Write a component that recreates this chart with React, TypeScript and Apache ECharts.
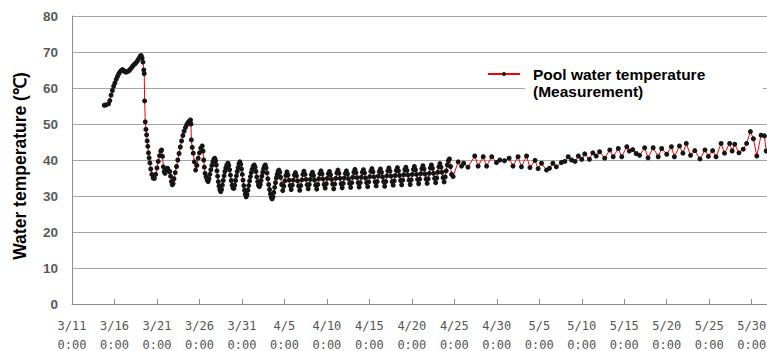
import React, { useEffect, useRef } from "react";
import * as echarts from "echarts";

// X axis: days since 3/11 0:00
const tickDates = ["3/11", "3/16", "3/21", "3/26", "3/31", "4/5", "4/10", "4/15", "4/20", "4/25", "4/30", "5/5", "5/10", "5/15", "5/20", "5/25", "5/30"];
const tickTime = "0:00";
const yTicks = [0, 10, 20, 30, 40, 50, 60, 70, 80];

// Early irregular period (days since 3/11 0:00, °C)
const earlyDays = [
  3.8, 4.0, 4.3, 4.45, 4.6, 4.75, 4.9, 5.05, 5.2, 5.35, 5.5, 5.65, 5.8, 5.95, 6.1, 6.25, 6.4, 6.55, 6.7, 6.85,
  7.0, 7.15, 7.3, 7.45, 7.6, 7.75, 7.9, 8.05, 8.15, 8.25, 8.35, 8.45, 8.5, 8.55, 8.62, 8.7, 8.78, 8.85, 8.92, 9.0,
  9.08, 9.17, 9.27, 9.4, 9.55, 9.7, 9.85, 10.0, 10.15, 10.3, 10.45, 10.55, 10.65, 10.75, 10.85, 10.95, 11.1, 11.25, 11.4, 11.5,
  11.6, 11.7, 11.8, 11.9, 12.0, 12.15, 12.3, 12.45, 12.6, 12.75, 12.9, 13.05, 13.2, 13.35, 13.5, 13.65, 13.8, 13.95, 14.0, 14.05,
  14.15, 14.27, 14.4, 14.55, 14.7, 14.85, 15.0, 15.15, 15.33, 15.42, 15.5, 15.58, 15.66, 15.78, 15.9, 16.02, 16.12, 16.22, 16.34, 16.46,
  16.58, 16.7, 16.8, 16.9, 16.98, 17.06, 17.14, 17.22, 17.3, 17.4, 17.5, 17.6, 17.7, 17.8, 17.9, 18.0, 18.1, 18.22, 18.35, 18.45,
  18.55, 18.65, 18.75, 18.85, 18.95, 19.05, 19.15, 19.25, 19.35, 19.45, 19.55, 19.65, 19.76, 19.86, 19.95, 20.04, 20.13, 20.22, 20.31, 20.4,
  20.5, 20.6, 20.7, 20.8, 20.9, 21.0, 21.1, 21.2, 21.32, 21.45, 21.55, 21.65, 21.75, 21.85, 21.95, 22.05, 22.15, 22.25, 22.35, 22.45,
  22.55, 22.65, 22.75, 22.85, 22.95, 23.05, 23.15, 23.25, 23.35, 23.45, 23.55, 23.65, 23.75, 23.85, 23.95, 24.05, 24.15, 24.25, 24.35, 24.45,
];
const earlyTemps = [
  55.2, 55.3, 55.6, 56.5, 58.0, 59.3, 60.5, 61.4, 62.4, 63.2, 63.9, 64.5, 64.9, 65.1, 64.8, 64.5, 64.4, 64.6, 64.8, 65.2,
  65.6, 66.1, 66.5, 66.8, 67.2, 67.7, 68.3, 68.9, 69.0, 68.3, 67.2, 65.0, 64.0, 56.4, 50.6, 48.5, 47.0, 45.3, 43.8, 42.0,
  40.6, 39.2, 37.5, 36.0, 35.0, 34.9, 36.0, 37.8, 39.6, 41.2, 42.5, 42.8, 41.0, 38.1, 36.8, 36.3, 37.5, 37.7, 36.9, 36.8,
  35.5, 34.0, 33.1, 33.5, 34.8, 36.5, 38.2, 40.0, 41.8, 43.6, 45.3, 46.8, 48.0, 49.0, 49.8, 50.4, 50.8, 51.1, 50.0, 45.6,
  43.5, 41.9, 39.5, 37.2, 38.5, 40.5, 42.0, 43.3, 43.9, 42.5, 40.0, 38.0, 36.3, 35.3, 34.5, 34.0, 34.8, 36.0, 37.3, 38.5,
  39.5, 40.2, 40.5, 39.8, 38.6, 37.0, 35.5, 34.0, 32.8, 31.8, 31.2, 31.8, 33.0, 34.3, 35.6, 36.8, 37.8, 38.6, 39.1, 38.5,
  37.3, 35.8, 34.3, 33.0, 32.2, 32.1, 33.0, 34.3, 35.6, 36.8, 37.9, 38.9, 39.5, 38.8, 37.5, 36.0, 34.4, 32.9, 31.6, 30.5,
  29.8, 30.4, 31.6, 32.9, 34.2, 35.4, 36.5, 37.4, 38.2, 38.6, 38.0, 36.8, 35.3, 34.0, 33.0, 32.6, 33.2, 34.3, 35.5, 36.6,
  37.6, 38.3, 38.6, 37.8, 36.4, 34.8, 33.2, 31.8, 30.6, 29.7, 29.2, 29.8, 31.0, 32.4, 33.7, 35.0, 36.0, 36.8, 37.2, 36.6,
];

// Daily cycles, 3-hourly readings from day 24.55 (about 4/4) to 4/25
const cycleStartDay = 24.55;
const cycleStepDay = 0.125;
const cycleTemps = [
  35.2, 33.2,
  31.5, 32.7, 34.2, 35.7, 36.7, 35.8, 34.4, 32.9,
  31.8, 33.0, 34.4, 35.8, 36.5, 35.6, 34.2, 32.8,
  31.6, 32.9, 34.5, 36.0, 36.9, 36.0, 34.6, 33.1,
  32.0, 33.2, 34.6, 35.9, 36.6, 35.7, 34.4, 33.0,
  31.9, 33.2, 34.8, 36.2, 37.0, 36.1, 34.7, 33.2,
  32.2, 33.4, 34.9, 36.2, 36.8, 35.9, 34.6, 33.3,
  32.0, 33.3, 34.9, 36.4, 37.2, 36.3, 34.9, 33.4,
  32.3, 33.5, 35.0, 36.3, 37.0, 36.1, 34.8, 33.5,
  32.4, 33.7, 35.2, 36.6, 37.4, 36.5, 35.1, 33.7,
  32.5, 33.7, 35.2, 36.6, 37.3, 36.4, 35.0, 33.7,
  32.6, 33.9, 35.4, 36.9, 37.6, 36.7, 35.3, 33.9,
  32.8, 34.0, 35.5, 36.8, 37.5, 36.6, 35.3, 34.0,
  32.7, 34.0, 35.6, 37.0, 37.8, 36.9, 35.5, 34.0,
  33.0, 34.2, 35.7, 37.1, 37.9, 37.0, 35.7, 34.3,
  33.1, 34.4, 35.9, 37.3, 38.0, 37.1, 35.8, 34.4,
  33.2, 34.5, 36.0, 37.4, 38.2, 37.3, 36.0, 34.6,
  33.4, 34.7, 36.2, 37.6, 38.4, 37.5, 36.1, 34.7,
  33.5, 34.8, 36.3, 37.8, 38.6, 37.7, 36.3, 34.9,
  33.7, 35.0, 36.6, 38.1, 39.0, 38.0, 36.6, 35.1,
  33.9, 35.3, 37.0, 38.6, 39.8, 40.3, 38.2, 36.0,
];

// Later, sparser measurements (days since 3/11 0:00, °C)
const lateDays = [
  44.86, 45.45, 45.85, 46.1, 46.6, 47.4, 47.8, 48.4, 48.8, 49.4, 49.96, 50.35, 50.9, 51.45, 51.9, 52.5, 52.9, 53.5, 53.9, 54.5,
  54.86, 55.26, 55.85, 56.2, 56.6, 57.0, 57.6, 58.0, 58.4, 58.8, 59.2, 59.6, 60.0, 60.35, 60.9, 61.3, 61.7, 62.1, 62.7, 63.3,
  63.7, 64.3, 64.7, 65.3, 65.6, 66.0, 66.4, 66.8, 67.4, 67.8, 68.4, 69.0, 69.4, 70.0, 70.55, 70.9, 71.5, 71.9, 72.3, 72.8,
  73.3, 73.9, 74.5, 74.9, 75.4, 75.8, 76.4, 76.8, 77.4, 77.7, 78.0, 78.5, 79.0, 79.4, 79.85, 80.2, 80.6, 81.1, 81.5, 81.7,
];
const lateTemps = [
  35.4, 39.5, 38.3, 39.1, 38.0, 41.1, 38.3, 40.9, 38.3, 40.9, 39.3, 40.0, 39.8, 40.5, 38.3, 40.9, 38.1, 41.1, 37.9, 39.9,
  37.6, 39.1, 37.2, 37.7, 39.1, 38.1, 39.3, 39.6, 40.9, 40.0, 39.6, 41.1, 40.2, 41.7, 40.2, 42.0, 41.1, 42.3, 40.5, 42.8,
  40.9, 43.2, 40.9, 43.7, 42.5, 42.9, 41.8, 41.3, 43.4, 40.6, 43.4, 40.9, 43.2, 41.6, 43.7, 40.9, 43.9, 41.9, 44.6, 41.3,
  42.6, 40.3, 42.8, 41.0, 42.6, 40.9, 44.6, 41.9, 44.6, 42.5, 44.4, 42.0, 43.0, 44.6, 47.9, 45.9, 41.1, 46.9, 46.7, 42.5,
];

const seriesName = "Pool water temperature\n(Measurement)";

export default function App() {
  const ref = useRef<HTMLDivElement>(null);
  useEffect(() => {
    if (!ref.current) return;
    const chart = echarts.init(ref.current, undefined, { renderer: "svg" });
    const data: [number, number][] = [];
    earlyDays.forEach((d, i) => data.push([d, earlyTemps[i]]));
    cycleTemps.forEach((t, i) => data.push([cycleStartDay + i * cycleStepDay, t]));
    lateDays.forEach((d, i) => data.push([d, lateTemps[i]]));
    const tickValues = tickDates.map((_, i) => i * 5);

    chart.setOption({
      animation: false,
      backgroundColor: "#ffffff",
      grid: { left: 72, right: 0, top: 16, bottom: 47, containLabel: false, outerBoundsMode: "none" },
      legend: {
        left: 487,
        top: 49.5,
        padding: 0,
        selectedMode: false,
        itemWidth: 32,
        itemHeight: 5,
        data: [seriesName],
        formatter: () => "{e| }\n{a|Pool water temperature}\n{b|(Measurement)}",
        textStyle: {
          fontFamily: "Liberation Sans, Arial, sans-serif",
          fontSize: 15,
          fontWeight: "bold",
          color: "#000",
          rich: {
            e: { fontSize: 15, lineHeight: 17 },
            a: { fontSize: 15.5, lineHeight: 17, fontWeight: "bold", color: "#000", padding: [0, 0, 0, 8], fontFamily: "Liberation Sans, Arial, sans-serif" },
            b: { fontSize: 15.5, lineHeight: 17, fontWeight: "bold", color: "#000", padding: [0, 0, 0, 8], width: 230, backgroundColor: "#ffffff", fontFamily: "Liberation Sans, Arial, sans-serif" },
          },
        },
      },
      xAxis: {
        type: "value",
        min: 0,
        max: 81.8,
        interval: 5,
        splitLine: { show: false },
        axisLine: { show: true, lineStyle: { color: "#8c8c8c", width: 1 } },
        axisTick: { show: true, inside: true, length: 5, lineStyle: { color: "#8c8c8c" }, customValues: tickValues },
        axisLabel: {
          customValues: tickValues,
          margin: 12.5,
          fontFamily: "DejaVu Sans Mono, monospace",
          fontSize: 12,
          lineHeight: 19,
          color: "#555",
          formatter: (v: number) => {
            const i = Math.round(v / 5);
            if (Math.abs(v - i * 5) > 1e-6 || i >= tickDates.length) return "";
            return tickDates[i] + "\n" + tickTime;
          },
        },
      },
      yAxis: {
        type: "value",
        min: yTicks[0],
        max: yTicks[yTicks.length - 1],
        interval: 10,
        name: "Water temperature (℃)",
        nameLocation: "middle",
        nameRotate: 90,
        nameGap: 43,
        nameTextStyle: { fontFamily: "Liberation Sans, Arial, sans-serif", fontSize: 17.5, fontWeight: "bold", color: "#000", padding: [0, 12, 0, 0] },
        axisLine: { show: true, lineStyle: { color: "#8c8c8c", width: 1 } },
        axisTick: { show: false },
        splitLine: { show: true, lineStyle: { color: "#a6a6a6", width: 1 } },
        axisLabel: {
          margin: 14,
          fontFamily: "Liberation Sans, Arial, sans-serif",
          fontSize: 13.5,
          fontWeight: "bold",
          color: "#595959",
        },
      },
      series: [
        {
          name: seriesName,
          type: "line",
          data,
          showAllSymbol: true,
          symbol: "circle",
          symbolSize: 5,
          itemStyle: { color: "#151515" },
          lineStyle: { color: "#ff0000", width: 1 },
          emphasis: { disabled: true },
        },
      ],
    });
    return () => chart.dispose();
  }, []);
  return <div ref={ref} style={{ position: "fixed", left: 0, top: 0, width: 767, height: 351 }} />;
}
